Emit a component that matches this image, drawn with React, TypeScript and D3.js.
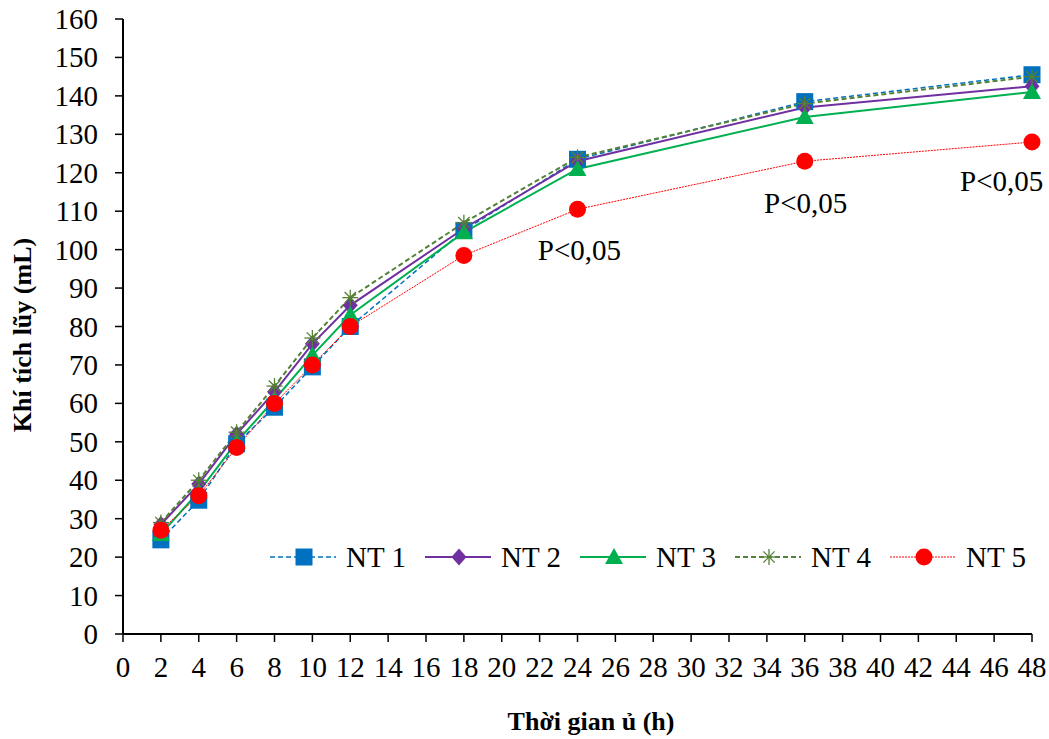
import React from "react";
import * as d3 from "d3";

const hours = [2, 4, 6, 8, 10, 12, 18, 24, 36, 48];
const nt1 = [24.5, 34.8, 49.5, 59, 69.5, 80, 105, 123.5, 138.5, 145.5];
const nt2 = [28.5, 39, 52, 63, 75.5, 85.5, 105.5, 123, 137, 142.5];
const nt3 = [26, 37, 50, 61, 72.5, 83, 104.5, 121, 134.5, 141];
const nt4 = [29, 40, 52.5, 64.5, 77, 87.5, 107, 124, 138, 145];
const nt5 = [27, 36, 48.5, 60, 70, 80, 98.5, 110.5, 123, 128];
const seriesNames = ["NT 1", "NT 2", "NT 3", "NT 4", "NT 5"];
const xTicks = d3.range(0, 49, 2);
const yTicks = d3.range(0, 161, 10);
const annotations = [
  { x: 24.1, y: 97.4, text: "P<0,05" },
  { x: 36.05, y: 109.6, text: "P<0,05" },
  { x: 46.4, y: 115.2, text: "P<0,05" },
];

const W = 1049, H = 739;
const x = d3.scaleLinear().domain([0, 48]).range([123, 1032]);
const y = d3.scaleLinear().domain([0, 160]).range([634, 19]);

const styles = [
  { color: "#0070C0", dash: "5,3", width: 1.5, marker: "square" },
  { color: "#7030A0", dash: "", width: 2, marker: "diamond" },
  { color: "#00B050", dash: "", width: 2, marker: "triangle" },
  { color: "#548235", dash: "5,3", width: 2, marker: "star" },
  { color: "#FF0000", dash: "2,1", width: 1, marker: "circle" },
];

function Marker({ type, cx, cy, color }: { type: string; cx: number; cy: number; color: string }) {
  if (type === "square") return <rect x={cx - 8.5} y={cy - 8.5} width={17} height={17} fill={color} />;
  if (type === "diamond") return <path d={`M${cx},${cy - 8.5}L${cx + 7.5},${cy}L${cx},${cy + 8.5}L${cx - 7.5},${cy}Z`} fill={color} />;
  if (type === "triangle") return <path d={`M${cx},${cy - 9}L${cx + 9},${cy + 7}L${cx - 9},${cy + 7}Z`} fill={color} />;
  if (type === "circle") return <circle cx={cx} cy={cy} r={8.5} fill={color} />;
  const r = 8;
  const lines = [0, 45, 90, 135].map((a) => {
    const rad = (a * Math.PI) / 180;
    return <line key={a} x1={cx - r * Math.cos(rad)} y1={cy - r * Math.sin(rad)} x2={cx + r * Math.cos(rad)} y2={cy + r * Math.sin(rad)} stroke={color} strokeWidth={1.3} />;
  });
  return <g>{lines}</g>;
}

export default function App() {
  const data = [nt1, nt2, nt3, nt4, nt5];
  const line = d3.line<number>().x((_, i) => x(hours[i])).y((d) => y(d));
  const font = "'Liberation Serif', 'Times New Roman', serif";
  return (
    <svg width={W} height={H} style={{ position: "absolute", left: 0, top: 0 }} fontFamily={font}>
      <rect width={W} height={H} fill="white" />
      <line x1={x(0)} y1={y(0)} x2={x(48)} y2={y(0)} stroke="black" strokeWidth={2} />
      <line x1={x(0)} y1={y(0)} x2={x(0)} y2={y(160)} stroke="black" strokeWidth={2} />
      {xTicks.map((t) => (
        <g key={t}>
          <line x1={x(t)} x2={x(t)} y1={y(0)} y2={y(0) + 8} stroke="black" strokeWidth={1.5} />
          <text x={x(t)} y={y(0) + 43} textAnchor="middle" fontSize={29}>{t}</text>
        </g>
      ))}
      {yTicks.map((t) => (
        <g key={t}>
          <line x1={x(0) - 8} x2={x(0)} y1={y(t)} y2={y(t)} stroke="black" strokeWidth={1.5} />
          <text x={x(0) - 25} y={y(t) + 10} textAnchor="end" fontSize={29}>{t}</text>
        </g>
      ))}
      <text x={591} y={730} textAnchor="middle" fontSize={26} fontWeight="bold">Thời gian ủ (h)</text>
      <text transform={`translate(31,335) rotate(-90)`} textAnchor="middle" fontSize={26} fontWeight="bold">Khí tích lũy (mL)</text>
      {data.map((s, i) => (
        <path key={i} d={line(s) || ""} fill="none" stroke={styles[i].color} strokeWidth={styles[i].width} strokeDasharray={styles[i].dash} />
      ))}
      {data.map((s, i) => (
        <g key={"m" + i}>
          {s.map((v, j) => (
            <Marker key={j} type={styles[i].marker} cx={x(hours[j])} cy={y(v)} color={styles[i].color} />
          ))}
        </g>
      ))}
      {annotations.map((a, i) => (
        <text key={i} x={x(a.x)} y={y(a.y)} textAnchor="middle" fontSize={29}>{a.text}</text>
      ))}
      {seriesNames.map((n, i) => {
        const lx = 270 + i * 155;
        const ly = 557;
        return (
          <g key={n}>
            <line x1={lx} x2={lx + 66} y1={ly} y2={ly} stroke={styles[i].color} strokeWidth={styles[i].width} strokeDasharray={styles[i].dash} />
            <Marker type={styles[i].marker} cx={lx + 34} cy={ly} color={styles[i].color} />
            <text x={lx + 76} y={ly + 10} fontSize={29}>{n}</text>
          </g>
        );
      })}
    </svg>
  );
}
